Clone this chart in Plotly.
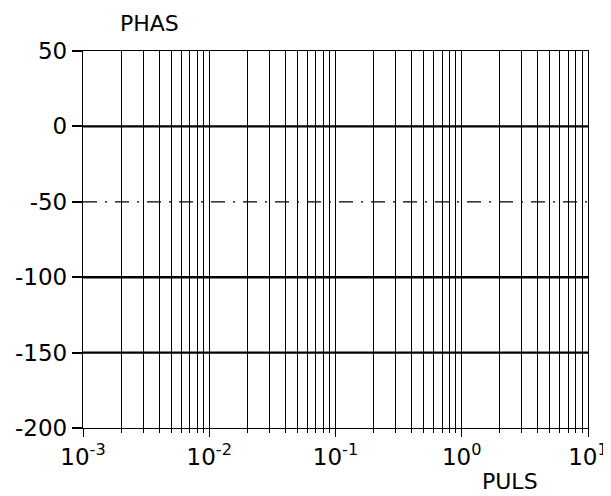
import plotly.graph_objects as go

# Axis extents / ticks
x_range_decades = [-3, 1]
x_major_ticks = [1e-3, 1e-2, 1e-1, 1e0, 1e1]
x_major_labels = ["10<sup>-3</sup>", "10<sup>-2</sup>", "10<sup>-1</sup>", "10<sup>0</sup>", "10<sup>1</sup>"]
x_minor_ticks = [m * 10.0 ** e for e in [-3, -2, -1, 0] for m in range(2, 10)]
y_ticks = [50, 0, -50, -100, -150, -200]
y_labels = ["50", "0", "-50", "-100", "-150", "-200"]

# Horizontal reference levels
solid_levels = [0, -100, -150]
dashdot_levels = [-50]
x_span = [1e-3, 1e1]

# page body has an 8px margin; figure sized to fit the window
OFF = 8
W, H = 611 - OFF, 496 - OFF
PL, PR, PT, PB = 83 - OFF, 588 - OFF, 51 - OFF, 428 - OFF
pw, ph = PR - PL, PB - PT

fig = go.Figure()
for lv in solid_levels:
    fig.add_trace(go.Scatter(x=x_span, y=[lv, lv], mode="lines",
                             line=dict(color="black", width=2.4), showlegend=False))
for lv in dashdot_levels:
    fig.add_trace(go.Scatter(x=x_span, y=[lv, lv], mode="lines",
                             line=dict(color="black", width=1.2, dash="14px,8px,2px,8px"),
                             showlegend=False))

font = dict(family="DejaVu Sans", size=23, color="black")

fig.update_layout(
    width=W, height=H,
    margin=dict(l=PL, r=W - PR, t=PT, b=H - PB, autoexpand=False),
    paper_bgcolor="white", plot_bgcolor="white",
    showlegend=False,
    xaxis=dict(
        type="log", range=x_range_decades,
        tickmode="array", tickvals=x_major_ticks, ticktext=x_major_labels,
        ticks="outside", ticklen=8, tickwidth=1.3, tickcolor="black",
        showgrid=True, gridcolor="black", gridwidth=1.3,
        showline=True, linecolor="black", linewidth=1.3, mirror=True,
        zeroline=False, tickfont=font, automargin=False,
        minor=dict(tickmode="array", tickvals=x_minor_ticks, ticks="outside",
                   ticklen=4, tickcolor="black", showgrid=True,
                   gridcolor="black", gridwidth=1.3),
    ),
    yaxis=dict(
        range=[-200, 50],
        tickmode="array", tickvals=y_ticks, ticktext=y_labels,
        ticks="outside", ticklen=10, tickwidth=2, tickcolor="black",
        showgrid=False, zeroline=False, automargin=False,
        showline=True, linecolor="black", linewidth=1.3, mirror=True,
        tickfont=font,
    ),
    annotations=[
        dict(text="PHAS", xref="paper", yref="paper",
             x=(149 - OFF - PL) / pw, y=1 + (PT - (23.5 - OFF)) / ph,
             showarrow=False, xanchor="center", yanchor="middle",
             font=dict(family="DejaVu Sans", size=22, color="black")),
        dict(text="PULS", xref="paper", yref="paper",
             x=(510 - OFF - PL) / pw, y=-((481 - OFF) - PB) / ph,
             showarrow=False, xanchor="center", yanchor="middle",
             font=dict(family="DejaVu Sans", size=22, color="black")),
    ],
)

fig.write_html("out.html")
